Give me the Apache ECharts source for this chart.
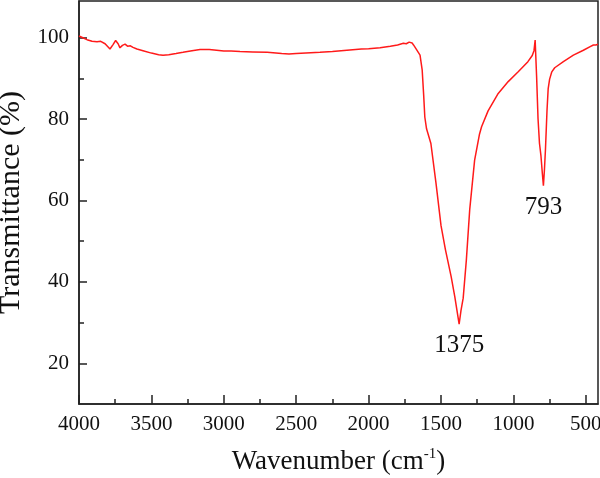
<!DOCTYPE html>
<html>
<head>
<meta charset="utf-8">
<script src="https://cdn.jsdelivr.net/npm/echarts@6/dist/echarts.min.js"></script>
<style>
html, body { margin: 0; padding: 0; background: #fff; }
#chart { width: 600px; height: 478px; }
</style>
</head>
<body>
<div id="chart"></div>
<script>
// FTIR spectrum, values
var wavenumber = [4000, 3970, 3945, 3910, 3876, 3850, 3820, 3786, 3765, 3747, 3730, 3717, 3700, 3682, 3665, 3645, 3627, 3600, 3558, 3500,
  3450, 3420, 3380, 3330, 3282, 3220, 3164, 3100, 3050, 3000, 2950, 2888, 2800, 2700, 2600, 2550, 2500, 2400, 2336, 2250,
  2150, 2050, 2000, 1921, 1850, 1800, 1760, 1740, 1720, 1700, 1690, 1670, 1645, 1630, 1620, 1612, 1600, 1570, 1535, 1500,
  1470, 1430, 1405, 1390, 1375, 1362, 1347, 1325, 1302, 1268, 1235, 1220, 1175, 1105, 1036, 967, 900, 870, 858, 850,
  840, 830, 820, 810, 800, 793, 786, 779, 768, 760, 750, 735, 715, 655, 586, 517, 470, 448, 430, 416];
var transmittance = [100.4, 99.9, 99.5, 99.1, 99.0, 99.1, 98.5, 97.2, 98.3, 99.3, 98.5, 97.5, 98.1, 98.4, 97.9, 98.0, 97.6, 97.2, 96.8, 96.2,
  95.8, 95.7, 95.8, 96.1, 96.4, 96.8, 97.1, 97.1, 96.9, 96.7, 96.7, 96.6, 96.5, 96.4, 96.1, 96.0, 96.1, 96.3, 96.4, 96.6,
  96.9, 97.2, 97.3, 97.5, 97.9, 98.2, 98.6, 98.5, 98.9, 98.7, 98.2, 97.1, 95.7, 92.0, 86.0, 80.5, 77.6, 74.0, 64.3, 53.8,
  48.0, 41.3, 36.4, 33.0, 29.6, 33.0, 36.0, 45.4, 57.7, 69.9, 76.2, 78.1, 82.0, 86.3, 89.2, 91.6, 94.1, 95.6, 96.8, 99.4,
  90.5, 80.0, 74.0, 71.0, 66.5, 63.6, 67.5, 72.4, 82.2, 87.5, 89.8, 91.6, 92.6, 94.1, 95.7, 96.9, 97.8, 98.2, 98.2, 98.4];
var xTicks = [4000, 3500, 3000, 2500, 2000, 1500, 1000, 500];
var xMinor = [3750, 3250, 2750, 2250, 1750, 1250, 750];
var yTicks = [20, 40, 60, 80, 100];
var yMinor = [30, 50, 70, 90];
var peaks = [[1375, 29.6], [793, 63.6]];

var chart = echarts.init(document.getElementById('chart'));
var font = 'Liberation Serif';
var seriesData = wavenumber.map(function (w, i) { return [w, transmittance[i]]; });
var plain = function (v) { return String(v); };

var option = {
  animation: false,
  backgroundColor: '#fff',
  grid: { left: 79, right: 2, top: 1, bottom: 74, containLabel: false, outerBoundsMode: 'none',
    show: true, borderColor: '#222', borderWidth: 1.5 },
  xAxis: [
    {
      type: 'value', inverse: true, min: 416, max: 4000,
      name: 'Wavenumber (cm{sup|-1})', nameLocation: 'middle', nameGap: 43,
      nameTextStyle: { fontFamily: font, fontSize: 27, color: '#111',
        rich: { sup: { fontFamily: font, fontSize: 15, color: '#111', verticalAlign: 'top', padding: [0, 0, 14, 0] } } },
      axisLine: { lineStyle: { color: '#222', width: 1.5 } },
      axisTick: { inside: true, length: 9, customValues: xTicks, lineStyle: { color: '#222', width: 1.5 } },
      axisLabel: { customValues: xTicks, formatter: plain, margin: 10, fontFamily: font, fontSize: 21, color: '#111' },
      splitLine: { show: false }
    },
    {
      type: 'value', inverse: true, min: 416, max: 4000, position: 'bottom',
      axisLine: { show: false },
      axisTick: { inside: true, length: 5, customValues: xMinor, lineStyle: { color: '#222', width: 1.5 } },
      axisLabel: { show: false },
      splitLine: { show: false }
    }
  ],
  yAxis: [
    {
      type: 'value', min: 10, max: 109,
      name: 'Transmittance (%)', nameLocation: 'middle', nameGap: 52,
      nameTextStyle: { fontFamily: font, fontSize: 30, color: '#111' },
      axisLine: { show: true, lineStyle: { color: '#222', width: 1.5 } },
      axisTick: { show: true, inside: true, length: 8, customValues: yTicks, lineStyle: { color: '#222', width: 1.5 } },
      axisLabel: { customValues: yTicks, formatter: plain, margin: 10, fontFamily: font, fontSize: 21, color: '#111' },
      splitLine: { show: false }
    },
    {
      type: 'value', min: 10, max: 109, position: 'left',
      axisLine: { show: false },
      axisTick: { show: true, inside: true, length: 5, customValues: yMinor, lineStyle: { color: '#222', width: 1.5 } },
      axisLabel: { show: false },
      splitLine: { show: false }
    }
  ],
  series: [
    {
      type: 'line',
      data: seriesData,
      showSymbol: false,
      lineStyle: { color: '#ff1a1a', width: 1.5 },
      markPoint: {
        symbol: 'circle', symbolSize: 0,
        label: {
          show: true, position: 'bottom', distance: 9,
          fontFamily: font, fontSize: 25, color: '#111',
          formatter: function (p) { return String(p.data.coord[0]); }
        },
        data: peaks.map(function (p) { return { coord: p }; })
      }
    }
  ]
};
chart.setOption(option);
</script>
</body>
</html>
